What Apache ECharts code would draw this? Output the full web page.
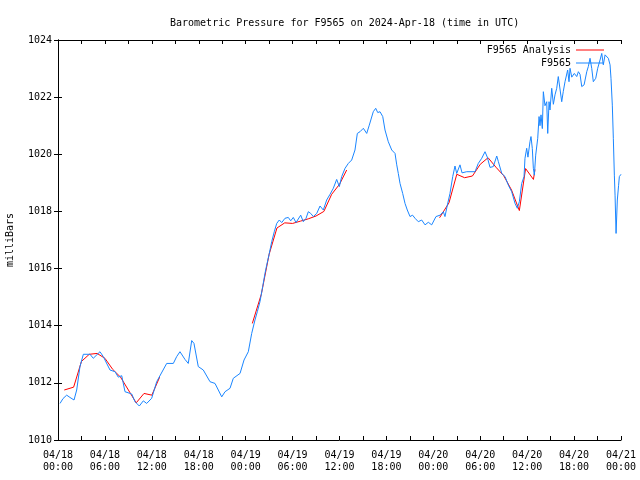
<!DOCTYPE html>
<html>
<head>
<meta charset="utf-8">
<script src="https://cdn.jsdelivr.net/npm/echarts@6/dist/echarts.min.js"></script>
<style>html,body{margin:0;padding:0;background:#fff}#c{width:640px;height:480px}</style>
</head>
<body>
<div id="c"></div>
<script>
// hours since 2024-04-18 00:00 UTC
var xTickLabels = ['04/18\n00:00','04/18\n06:00','04/18\n12:00','04/18\n18:00','04/19\n00:00','04/19\n06:00','04/19\n12:00','04/19\n18:00','04/20\n00:00','04/20\n06:00','04/20\n12:00','04/20\n18:00','04/21\n00:00'];

var obsHours = [0.26,0.64,1.11,1.53,2.05,2.39,2.81,3.24,4.09,4.51,4.73,5.37,5.79,6.65,7.29,7.71,8.15,8.57,9.43,9.85,10.40,10.91,11.34,11.98,12.62,13.90,14.75,15.18,15.60,16.24,16.66,17.10,17.39,17.94,18.58,19.44,20.08,20.94,21.36,22.00,22.42,23.28,23.79,24.34,24.77,25.19,25.49,25.83,26.18,26.47,26.69,27.02,27.33,27.66,27.97,28.30,28.61,29.03,29.45,29.76,30.09,30.44,31.04,31.37,31.72,32.01,32.32,32.65,33.09,33.51,33.93,34.36,34.79,35.21,35.64,35.98,36.28,36.71,37.13,37.56,37.98,38.28,38.62,39.05,39.48,39.81,40.32,40.63,40.89,41.18,41.53,41.82,42.24,42.68,43.10,43.32,43.52,43.74,44.08,44.38,44.67,45.02,45.34,45.66,46.08,46.51,46.94,47.36,47.79,48.34,48.86,49.28,49.49,49.79,50.13,50.48,50.77,50.99,51.19,51.41,51.67,52.27,53.33,53.75,54.19,54.61,54.90,55.25,55.67,56.11,56.31,56.75,57.17,57.59,58.02,58.45,58.74,59.00,59.30,59.60,59.72,59.94,60.10,60.36,60.49,60.66,60.79,60.92,61.09,61.35,61.52,61.64,61.77,61.94,62.07,62.28,62.50,62.63,62.80,62.92,63.14,63.35,63.56,63.78,63.98,64.20,64.42,64.62,64.84,65.06,65.18,65.35,65.48,65.70,66.03,66.34,66.55,66.76,66.98,67.28,67.62,67.82,68.04,68.26,68.46,68.77,69.02,69.32,69.54,69.74,69.96,70.17,70.38,70.60,70.72,70.89,71.02,71.15,71.24,71.37,71.53,71.69,71.79,72.0];
var obsValues = [1011.28,1011.45,1011.57,1011.49,1011.40,1011.75,1012.57,1013.00,1013.00,1012.86,1012.80,1013.09,1012.92,1012.45,1012.39,1012.20,1012.25,1011.69,1011.61,1011.34,1011.19,1011.37,1011.28,1011.46,1012.04,1012.68,1012.68,1012.92,1013.09,1012.82,1012.68,1013.48,1013.38,1012.57,1012.45,1012.04,1011.98,1011.51,1011.69,1011.81,1012.16,1012.33,1012.80,1013.09,1013.73,1014.20,1014.49,1014.84,1015.37,1015.83,1016.12,1016.53,1016.94,1017.29,1017.58,1017.70,1017.61,1017.76,1017.79,1017.67,1017.79,1017.61,1017.87,1017.64,1017.76,1017.99,1017.93,1017.82,1017.93,1018.19,1018.05,1018.40,1018.60,1018.81,1019.12,1018.87,1019.22,1019.51,1019.68,1019.80,1020.15,1020.73,1020.79,1020.91,1020.73,1021.02,1021.49,1021.61,1021.46,1021.49,1021.32,1020.85,1020.44,1020.15,1020.03,1019.63,1019.33,1018.98,1018.63,1018.28,1018.05,1017.82,1017.87,1017.76,1017.64,1017.70,1017.53,1017.62,1017.53,1017.82,1017.87,1017.99,1017.82,1018.22,1018.63,1019.22,1019.59,1019.33,1019.39,1019.63,1019.35,1019.39,1019.39,1019.68,1019.86,1020.09,1019.90,1019.54,1019.57,1019.94,1019.75,1019.33,1019.22,1018.92,1018.69,1018.28,1018.11,1018.34,1018.98,1019.22,1019.86,1020.21,1019.90,1020.44,1020.62,1020.20,1019.51,1019.27,1019.97,1020.56,1021.32,1021.00,1021.38,1020.90,1022.19,1021.70,1021.84,1020.73,1021.84,1021.55,1022.31,1021.75,1022.08,1022.31,1022.72,1022.72,1021.84,1022.20,1022.54,1022.54,1022.95,1022.54,1023.01,1022.70,1022.83,1022.72,1022.89,1022.80,1022.37,1022.43,1022.89,1023.07,1023.36,1023.00,1022.54,1022.66,1023.01,1023.30,1023.53,1023.13,1023.48,1023.53,1023.36,1023.13,1022.66,1021.72,1020.56,1019.27,1018.57,1017.23,1018.40,1018.90,1019.22,1019.30];

var anaHours = [0.8,2,3,4,5,6,7,8,9,10,11,12,13, 19,
  24.85,26,27,28,29,30,31,32,33,34,35,36,36.92, 43,
  48.8,50,51,52,53,54,55,56,57,58,59,59.8,60.8,61];
var anaValues = [1011.75,1011.85,1012.75,1013.00,1013.03,1012.86,1012.47,1012.20,1011.75,1011.30,1011.63,1011.57,1012.20, null,
  1014.08,1015.10,1016.50,1017.42,1017.60,1017.58,1017.66,1017.74,1017.84,1018.00,1018.60,1018.95,1019.45, null,
  1017.78,1018.30,1019.30,1019.18,1019.24,1019.65,1019.88,1019.55,1019.25,1018.75,1018.03,1019.50,1019.12,1019.47];

function pairs(h, v) { return h.map(function (t, i) { return [t, v[i]]; }); }

var font = 'DejaVu Sans Mono';
var chart = echarts.init(document.getElementById('c'), null, {renderer: 'canvas'});
var axisCommon = {
  axisLine: {show: true, lineStyle: {color: '#000', width: 1}},
  axisTick: {show: true, inside: true, length: 4, lineStyle: {color: '#000'}},
  splitLine: {show: false}
};
chart.setOption({
  animation: false,
  backgroundColor: '#fff',
  title: {
    text: 'Barometric Pressure for F9565 on 2024-Apr-18 (time in UTC)',
    left: 165, top: 13,
    textStyle: {fontFamily: font, fontSize: 10, fontWeight: 'normal', color: '#000'}
  },
  legend: {
    orient: 'vertical', right: 31, top: 39, align: 'right',
    icon: 'rect', itemWidth: 28, itemHeight: 1, itemGap: 1,
    textStyle: {fontFamily: font, fontSize: 10, color: '#000', lineHeight: 12},
    data: ['F9565 Analysis', 'F9565']
  },
  grid: {left: 58, right: 19, top: 40, bottom: 40, containLabel: false, outerBoundsMode: 'none'},
  xAxis: [
    Object.assign({}, axisCommon, {
      type: 'value', min: 0, max: 72, interval: 6, position: 'bottom',
      minorTick: {show: true, splitNumber: 2, length: 4, lineStyle: {color: '#000'}},
      axisLabel: {fontFamily: font, fontSize: 10, color: '#000', lineHeight: 12, margin: 9,
        formatter: function (v) { return xTickLabels[Math.round(v / 6)]; }}
    }),
    Object.assign({}, axisCommon, {
      type: 'value', min: 0, max: 72, interval: 6, position: 'top',
      minorTick: {show: true, splitNumber: 2, length: 4, lineStyle: {color: '#000'}},
      axisLabel: {show: false}
    })
  ],
  yAxis: [
    Object.assign({}, axisCommon, {
      type: 'value', min: 1010, max: 1024, interval: 2, position: 'left',
      name: 'milliBars', nameLocation: 'middle', nameGap: 43, nameRotate: 90,
      nameTextStyle: {fontFamily: font, fontSize: 10, color: '#000'},
      axisLabel: {fontFamily: font, fontSize: 10, color: '#000', margin: 6,
        formatter: function (v) { return String(v); }}
    }),
    Object.assign({}, axisCommon, {
      type: 'value', min: 1010, max: 1024, interval: 2, position: 'right',
      axisLabel: {show: false}
    })
  ],
  series: [
    {
      name: 'F9565 Analysis', type: 'line', data: pairs(anaHours, anaValues),
      showSymbol: false, symbol: 'none', connectNulls: false,
      lineStyle: {color: '#ff0000', width: 1}, itemStyle: {color: '#ff0000'}
    },
    {
      name: 'F9565', type: 'line', data: pairs(obsHours, obsValues),
      showSymbol: false, symbol: 'none',
      lineStyle: {color: '#1a86ff', width: 1}, itemStyle: {color: '#1a86ff'}
    }
  ]
});
</script>
</body>
</html>
